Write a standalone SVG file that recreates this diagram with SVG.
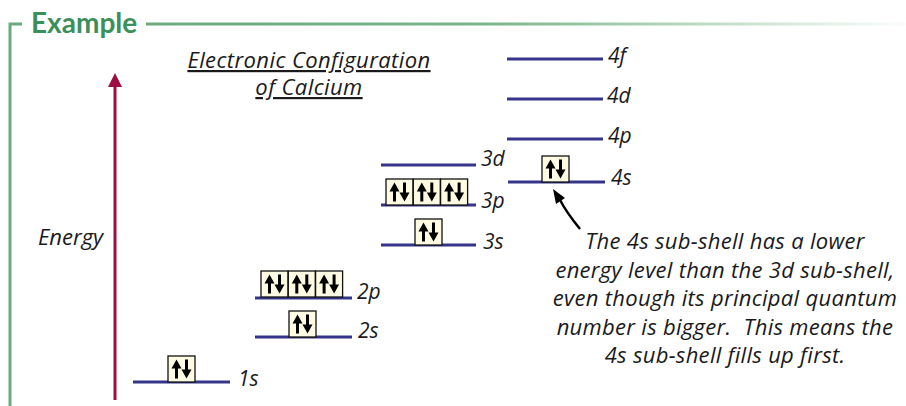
<svg xmlns="http://www.w3.org/2000/svg" xmlns:xlink="http://www.w3.org/1999/xlink" width="906" height="406" viewBox="0 0 906 406">
<style>
.lvl{stroke:#34348a;stroke-width:3;fill:none}
.lbl{font-family:"Open Sans",Lato,"Liberation Sans",sans-serif;font-style:italic;font-size:21px;fill:#1a1a1a}
.note{font-family:"Open Sans",Lato,"Liberation Sans",sans-serif;font-style:italic;font-size:22px;letter-spacing:0.3px;fill:#1a1a1a;text-anchor:middle}
.title{font-family:"Open Sans",Lato,"Liberation Sans",sans-serif;font-style:italic;font-size:22px;letter-spacing:0.4px;fill:#1a1a1a;text-anchor:middle;text-decoration:underline}
.box{fill:#fffbe3;stroke:#111;stroke-width:1.3}
.frame{stroke:#6aaa7c;stroke-width:3;fill:none}
</style>
<defs>
<linearGradient id="fade" gradientUnits="userSpaceOnUse" x1="146" y1="0" x2="906" y2="0">
<stop offset="0" stop-color="#6aaa7c"/>
<stop offset="0.45" stop-color="#7ab58a"/>
<stop offset="1" stop-color="#7ab58a" stop-opacity="0.03"/>
</linearGradient>
<g id="arrows">
<polygon points="8.5,3.5 3.5,12.5 7,12.5 7,22.5 10,22.5 10,12.5 13.5,12.5" fill="#000"/>
<polygon points="18.5,22.5 13.5,13.5 17,13.5 17,3.5 20,3.5 20,13.5 23.5,13.5" fill="#000"/>
</g>
<g id="pair">
<rect class="box" x="0" y="0" width="27" height="26"/>
<use xlink:href="#arrows"/>
</g>
</defs>
<rect width="906" height="406" fill="#fff"/>
<g id="frame">
<path class="frame" d="M10,406 V24 H22"/>
<line x1="146" y1="24" x2="906" y2="24" stroke="url(#fade)" stroke-width="3"/>
<text x="31" y="33" font-family="Lato,'Open Sans','Liberation Sans',sans-serif" font-weight="bold" font-size="28" fill="#3b8f5a">Example</text>
</g>
<g id="title">
<text class="title" x="309" y="68">Electronic Configuration</text>
<text class="title" x="309" y="95">of Calcium</text>
</g>
<g id="energy-label">
<text class="lbl" x="38" y="245" style="font-size:22px">Energy</text>
</g>
<g id="connectors">
<line x1="115" y1="400" x2="115" y2="86" stroke="#9b1040" stroke-width="3"/>
<polygon points="115,73 108,87 122,87" fill="#9b1040"/>
<path d="M580,229 Q566,212 559,198" fill="none" stroke="#000" stroke-width="2.5"/>
<polygon points="553,189 556,204 565,198" fill="#000"/>
</g>
<g id="level-1s">
<line class="lvl" x1="133" y1="382" x2="230" y2="382"/>
<use xlink:href="#pair" x="168" y="356"/>
<text class="lbl" x="238" y="386">1s</text>
</g>
<g id="level-2s">
<line class="lvl" x1="255" y1="337" x2="352" y2="337"/>
<use xlink:href="#pair" x="289" y="311"/>
<text class="lbl" x="358" y="338">2s</text>
</g>
<g id="level-2p">
<line class="lvl" x1="255" y1="298" x2="352" y2="298"/>
<use xlink:href="#pair" x="261" y="271"/>
<use xlink:href="#pair" x="288.3" y="271"/>
<use xlink:href="#pair" x="315.6" y="271"/>
<text class="lbl" x="357" y="299">2p</text>
</g>
<g id="level-3s">
<line class="lvl" x1="381" y1="245" x2="476" y2="245"/>
<use xlink:href="#pair" x="415" y="219"/>
<text class="lbl" x="483" y="249">3s</text>
</g>
<g id="level-3p">
<line class="lvl" x1="381" y1="205" x2="476" y2="205"/>
<use xlink:href="#pair" x="386" y="179"/>
<use xlink:href="#pair" x="413.3" y="179"/>
<use xlink:href="#pair" x="440.6" y="179"/>
<text class="lbl" x="481" y="208">3p</text>
</g>
<g id="level-3d">
<line class="lvl" x1="381" y1="165" x2="476" y2="165"/>
<text class="lbl" x="481" y="166">3d</text>
</g>
<g id="level-4s">
<line class="lvl" x1="508" y1="182" x2="605" y2="182"/>
<use xlink:href="#pair" x="542" y="156"/>
<text class="lbl" x="611" y="185">4s</text>
</g>
<g id="level-4p">
<line class="lvl" x1="507" y1="139" x2="603" y2="139"/>
<text class="lbl" x="608" y="143">4p</text>
</g>
<g id="level-4d">
<line class="lvl" x1="507" y1="99" x2="603" y2="99"/>
<text class="lbl" x="607" y="103">4d</text>
</g>
<g id="level-4f">
<line class="lvl" x1="507" y1="59" x2="603" y2="59"/>
<text class="lbl" x="608" y="63">4f</text>
</g>
<g id="note">
<text class="note" x="725" y="249">The 4s sub-shell has a lower</text>
<text class="note" x="725" y="278">energy level than the 3d sub-shell,</text>
<text class="note" x="725" y="306">even though its principal quantum</text>
<text class="note" x="725" y="335">number is bigger.&#160; This means the</text>
<text class="note" x="725" y="363">4s sub-shell fills up first.</text>
</g>
</svg>
